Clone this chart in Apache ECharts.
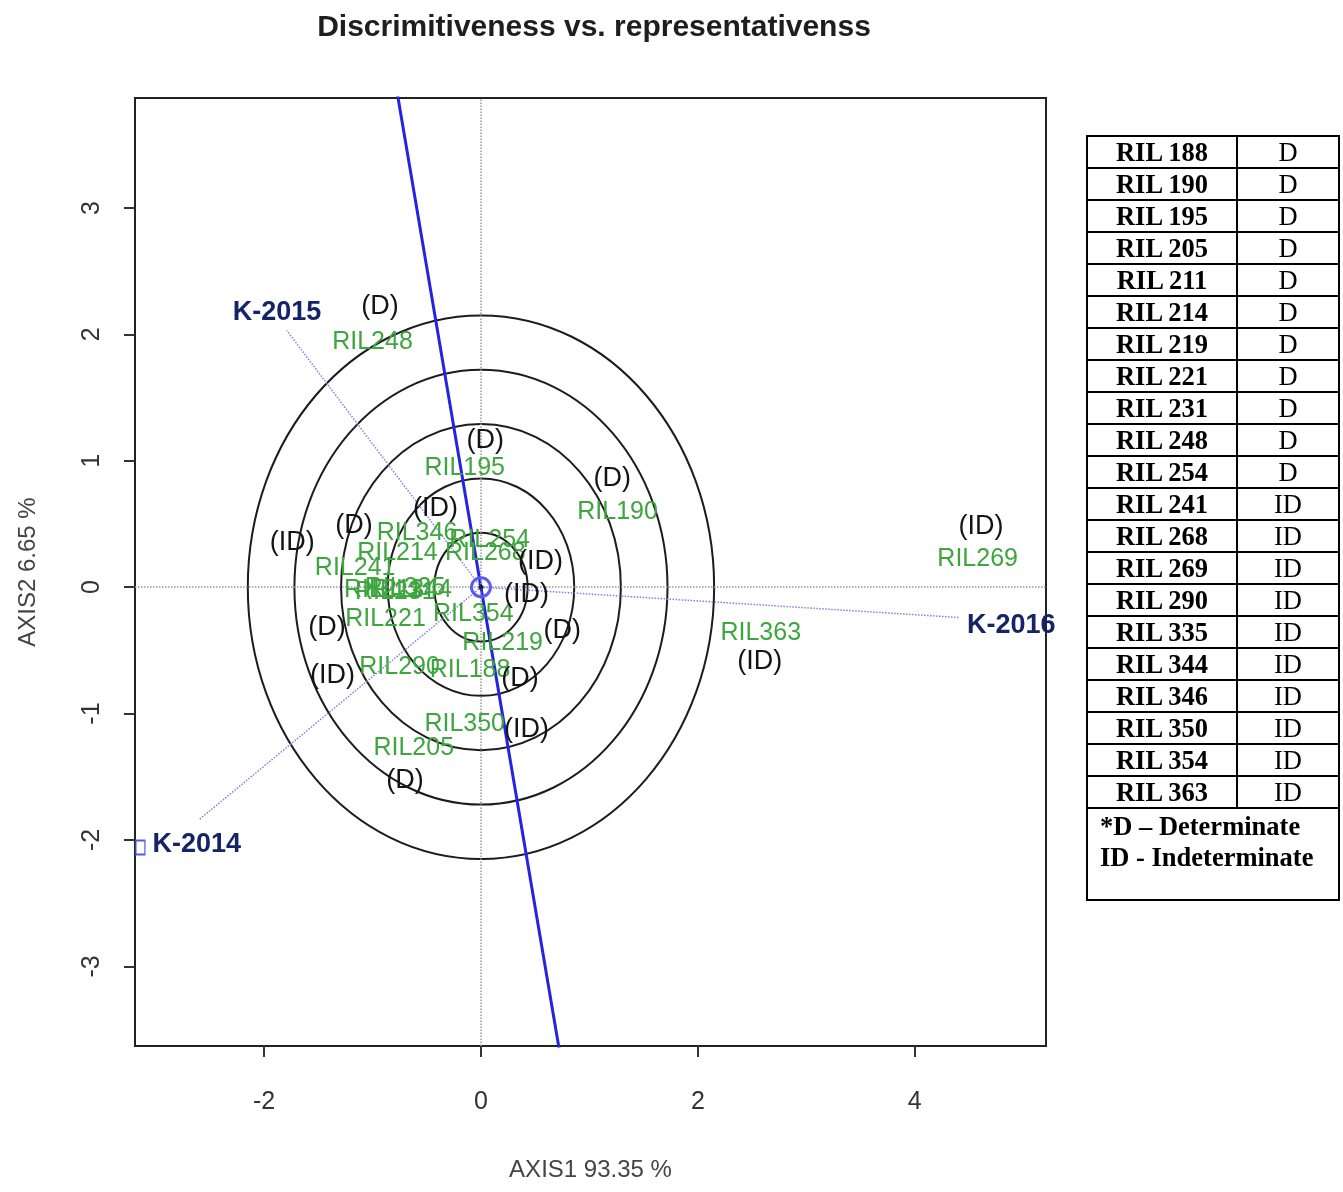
<!DOCTYPE html>
<html>
<head>
<meta charset="utf-8">
<title>Discrimitiveness vs. representativenss</title>
<script src="https://cdn.jsdelivr.net/npm/echarts@6/dist/echarts.min.js"></script>
<style>
  html, body { margin: 0; padding: 0; background: #fff; }
  #chart { width: 1343px; height: 1192px; }
  #typeTable {
    position: absolute; left: 1086px; top: 135px; width: 254px;
    border-collapse: collapse;
    font-family: "Liberation Serif", "Times New Roman", serif;
    font-size: 26.5px; color: #000;
  }
  #typeTable tr { height: 32px; }
  #typeTable td { border: 2px solid #000; padding: 0; line-height: 26px; text-align: center; }
  #typeTable td.name { width: 148px; font-weight: bold; }
  #typeTable td.note { height: 88px; text-align: left; vertical-align: top; font-weight: bold; padding: 2px 0 0 12px; line-height: 31px; }
</style>
</head>
<body>
<div id="chart"></div>
<table id="typeTable"></table>
<script>
// genotype labels (data coords of label centres)
const genotypes = ["RIL188", "RIL190", "RIL195", "RIL205", "RIL211", "RIL214", "RIL219", "RIL221", "RIL231", "RIL248", "RIL254",
  "RIL241", "RIL268", "RIL269", "RIL290", "RIL335", "RIL344", "RIL346", "RIL350", "RIL354", "RIL363"];
const genoX = [-0.10, 1.26, -0.15, -0.62, -0.90, -0.77, 0.20, -0.88, -0.79, -1.00, 0.08,
  -1.16, 0.04, 4.58, -0.75, -0.70, -0.64, -0.59, -0.15, -0.07, 2.58];
const genoY = [-0.66, 0.59, 0.94, -1.27, -0.02, 0.27, -0.44, -0.25, -0.04, 1.94, 0.37,
  0.15, 0.27, 0.22, -0.63, -0.01, -0.02, 0.43, -1.08, -0.21, -0.36];

// growth habit tags written next to the genotypes
const habitText = ["(D)", "(D)", "(D)", "(ID)", "(ID)", "(ID)", "(D)", "(ID)", "(ID)", "(ID)", "(D)", "(D)", "(D)", "(ID)", "(ID)", "(D)"];
const habitX = [-0.93, 0.04, 1.21, 4.61, 2.57, -0.42, -1.17, -1.74, 0.55, 0.42, 0.75, 0.36, -1.42, -1.37, 0.42, -0.70];
const habitY = [2.22, 1.16, 0.86, 0.48, -0.59, 0.62, 0.49, 0.35, 0.20, -0.06, -0.34, -0.72, -0.32, -0.70, -1.13, -1.53];

// environments
const envNames = ["K-2014", "K-2015", "K-2016"];
const envX = [-2.60, -1.79, 4.41];
const envY = [-1.84, 2.03, -0.24];
const envLabelX = [-2.62, -1.88, 4.89];
const envLabelY = [-2.04, 2.17, -0.30];
const envMarkX = [-3.14];
const envMarkY = [-2.06];

// concentric circles and average-environment axis
const circleRadii = [0.43, 0.86, 1.29, 1.72, 2.15];
const aecX = [-0.78, 0.74];
const aecY = [3.95, -3.75];

const xTicks = [-2, 0, 2, 4];
const yTicks = [-3, -2, -1, 0, 1, 2, 3];

// side table
const tableNames = ["RIL 188", "RIL 190", "RIL 195", "RIL 205", "RIL 211", "RIL 214", "RIL 219", "RIL 221", "RIL 231", "RIL 248", "RIL 254",
  "RIL 241", "RIL 268", "RIL 269", "RIL 290", "RIL 335", "RIL 344", "RIL 346", "RIL 350", "RIL 354", "RIL 363"];
const tableTypes = ["D", "D", "D", "D", "D", "D", "D", "D", "D", "D", "D",
  "ID", "ID", "ID", "ID", "ID", "ID", "ID", "ID", "ID", "ID"];
const tableNotes = ["*D \u2013 Determinate", "ID - Indeterminate"];

const table = document.getElementById("typeTable");
let rows = "";
tableNames.forEach((n, i) => {
  rows += "<tr><td class='name'>" + n + "</td><td>" + tableTypes[i] + "</td></tr>";
});
rows += "<tr><td class='note' colspan='2'>" + tableNotes.join("<br>") + "</td></tr>";
table.innerHTML = rows;

const font = "'Liberation Sans', Arial, sans-serif";
const chart = echarts.init(document.getElementById("chart"));

const envLines = envNames.map((name, i) => ({
  type: "line",
  data: [[0, 0], [envX[i], envY[i]]],
  symbol: "none",
  silent: true,
  z: 3,
  lineStyle: { color: "#8080ea", width: 1.5, type: "dotted" }
}));

// scatter used only to carry text labels
const textLayer = (items, z, label) => ({
  type: "scatter",
  data: items,
  symbolSize: 1,
  silent: true,
  z: z,
  itemStyle: { color: "rgba(0,0,0,0)", opacity: 1 },
  label: Object.assign({ show: true, position: "inside", formatter: "{b}", fontFamily: font }, label)
});

const option = {
  animation: false,
  backgroundColor: "#fff",
  title: {
    text: "Discrimitiveness vs. representativenss",
    left: 589,
    top: 8,
    textAlign: "center",
    textStyle: { fontFamily: font, fontSize: 30, fontWeight: "bold", color: "#1e1e1e" }
  },
  grid: {
    left: 135, right: 297, top: 98, bottom: 146,
    show: true, borderColor: "#222", borderWidth: 2
  },
  xAxis: {
    type: "value",
    min: -3.19, max: 5.21,
    name: "AXIS1 93.35 %",
    nameLocation: "middle",
    nameGap: 112,
    nameTextStyle: { fontFamily: font, fontSize: 24, color: "#444" },
    axisLine: { show: false, onZero: false },
    axisTick: { show: true, inside: false, length: 11, customValues: xTicks, lineStyle: { color: "#333", width: 2 } },
    axisLabel: { customValues: xTicks, margin: 44, fontFamily: font, fontSize: 25, color: "#333" },
    splitLine: { show: false }
  },
  yAxis: {
    type: "value",
    min: -3.63, max: 3.87,
    name: "AXIS2 6.65 %",
    nameLocation: "middle",
    nameGap: 95,
    nameTextStyle: { fontFamily: font, fontSize: 24, color: "#444" },
    axisLine: { show: false, onZero: false },
    axisTick: { show: true, inside: false, length: 11, customValues: yTicks, lineStyle: { color: "#333", width: 2 } },
    axisLabel: { customValues: yTicks, rotate: 90, margin: 30, fontFamily: font, fontSize: 25, color: "#333" },
    splitLine: { show: false }
  },
  series: [
    {
      type: "custom",
      data: circleRadii.map(r => [0, 0, r]),
      encode: { x: 0, y: 1 },
      silent: true,
      z: 2,
      renderItem: (params, api) => {
        const c = api.coord([api.value(0), api.value(1)]);
        const s = api.size([api.value(2), api.value(2)]);
        return {
          type: "ellipse",
          shape: { cx: c[0], cy: c[1], rx: s[0], ry: s[1] },
          style: { fill: "none", stroke: "#1c1c1c", lineWidth: 2 }
        };
      }
    },
    ...envLines,
    {
      type: "line",
      data: aecX.map((x, i) => [x, aecY[i]]),
      symbol: "none",
      silent: true,
      clip: true,
      z: 4,
      lineStyle: { color: "#2424e0", width: 3 },
      markLine: {
        silent: true,
        symbol: ["none", "none"],
        label: { show: false },
        lineStyle: { color: "#999", width: 1.5, type: "dotted" },
        data: [{ xAxis: 0 }, { yAxis: 0 }]
      }
    },
    {
      type: "scatter",
      data: [[0, 0]],
      symbol: "circle",
      symbolSize: 19,
      silent: true,
      z: 5,
      itemStyle: { color: "rgba(0,0,0,0)", borderColor: "#5a5af2", borderWidth: 3, opacity: 1 }
    },
    {
      type: "scatter",
      data: [[0, 0]],
      symbolSize: 5,
      silent: true,
      z: 6,
      itemStyle: { color: "#1a1a5a", opacity: 1 }
    },
    {
      type: "scatter",
      data: envMarkX.map((x, i) => [x, envMarkY[i]]),
      symbol: "rect",
      symbolSize: [9, 14],
      silent: true,
      z: 5,
      itemStyle: { color: "rgba(0,0,0,0)", borderColor: "#5555ee", borderWidth: 1.5, opacity: 1 }
    },
    textLayer(genotypes.map((g, i) => ({ name: g, value: [genoX[i], genoY[i]] })), 7,
      { fontSize: 25, color: "#3fa53f" }),
    textLayer(habitText.map((t, i) => ({ name: t, value: [habitX[i], habitY[i]] })), 8,
      { fontSize: 27, color: "#141414" }),
    textLayer(envNames.map((e, i) => ({ name: e, value: [envLabelX[i], envLabelY[i]] })), 8,
      { fontSize: 27, fontWeight: "bold", color: "#142466" })
  ]
};

chart.setOption(option);
</script>
</body>
</html>
